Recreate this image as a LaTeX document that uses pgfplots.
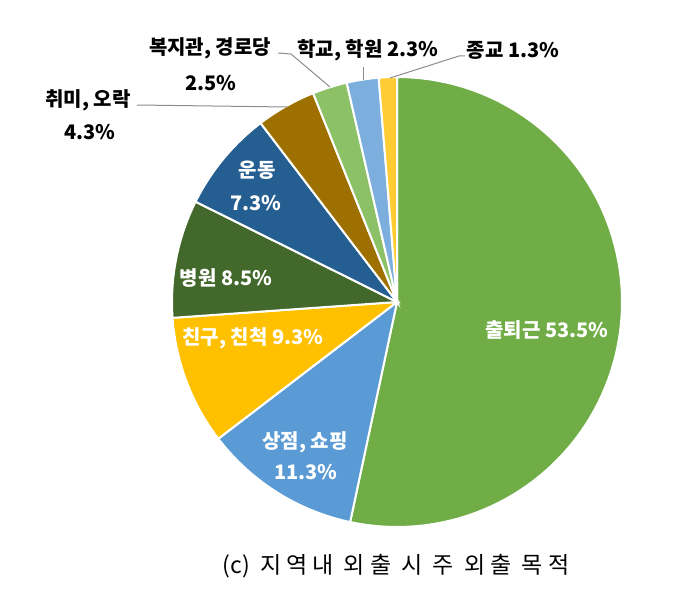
\documentclass[border=0pt]{standalone}
\usepackage{fontspec}
\setmainfont{Noto Sans CJK KR}
\newfontfamily\capfont[LetterSpace=22]{Noto Sans CJK KR}
\usepackage{pgfplots}
\pgfplotsset{compat=1.18}
\definecolor{c1}{HTML}{70AD47}
\definecolor{c2}{HTML}{5B9BD5}
\definecolor{c3}{HTML}{FFC000}
\definecolor{c4}{HTML}{43682B}
\definecolor{c5}{HTML}{255E91}
\definecolor{c6}{HTML}{9E7000}
\definecolor{c7}{HTML}{8CC168}
\definecolor{c8}{HTML}{7CAFDD}
\definecolor{c9}{HTML}{FFCD33}
% slice: start (cumulative %), end (cumulative %), colour; total = 100.3
\newcommand\slice[3]{%
  \addplot[fill=#3, draw=white, line width=1pt, domain=#1:#2, samples=90, variable=\t]
    ({397+225*sin(360*\t/100.3)},{288+225*cos(360*\t/100.3)}) -- (397,288) -- cycle;}
\begin{document}
\begin{tikzpicture}
\begin{axis}[
  scale only axis, width=345pt, height=295pt,
  xmin=0, xmax=690, ymin=0, ymax=590,
  axis lines=none, clip=false,
  font=\fontsize{10}{12}\selectfont,
]
\path (0,0) rectangle (690,590);
% values: 53.5, 11.3, 9.3, 8.5, 7.3, 4.3, 2.5, 2.3, 1.3
\slice{0}{53.5}{c1}
\slice{53.5}{64.8}{c2}
\slice{64.8}{74.1}{c3}
\slice{74.1}{82.6}{c4}
\slice{82.6}{89.9}{c5}
\slice{89.9}{94.2}{c6}
\slice{94.2}{96.7}{c7}
\slice{96.7}{99.0}{c8}
\slice{99.0}{100.3}{c9}
% inside labels
\begin{scope}[every node/.style={text=white, font=\fontsize{10}{12}\selectfont\bfseries}]
\node at (547,260) {출퇴근 53.5\%};
\node at (305,148) {상점, 쇼핑};
\node at (306,118) {11.3\%};
\node at (253,252) {친구, 친척 9.3\%};
\node at (226,312) {병원 8.5\%};
\node at (257,420) {운동};
\node at (256,387) {7.3\%};
\end{scope}
% outside labels
\begin{scope}[every node/.style={text=black, font=\fontsize{10}{12}\selectfont\bfseries}]
\node at (88,490) {취미, 오락};
\node at (90,458) {4.3\%};
\node at (210,542) {복지관, 경로당};
\node at (211,507) {2.5\%};
\node at (368,540) {학교, 학원 2.3\%};
\node at (513,540) {종교 1.3\%};
\end{scope}
% leader lines
\begin{scope}[draw=black!45, line width=0.5pt]
\draw (137,485) -- (287,483);
\draw (278,537) -- (291,536) -- (330,503);
\draw (363,523) -- (363,510);
\draw (465,534) -- (459,534) -- (390,512);
\end{scope}
\node[font=\fontsize{11.5}{13}\selectfont] at (396,24) {(c)\hspace{5pt}{\capfont 지역내 외출 시 주 외출 목적}};
\end{axis}
\end{tikzpicture}
\end{document}
